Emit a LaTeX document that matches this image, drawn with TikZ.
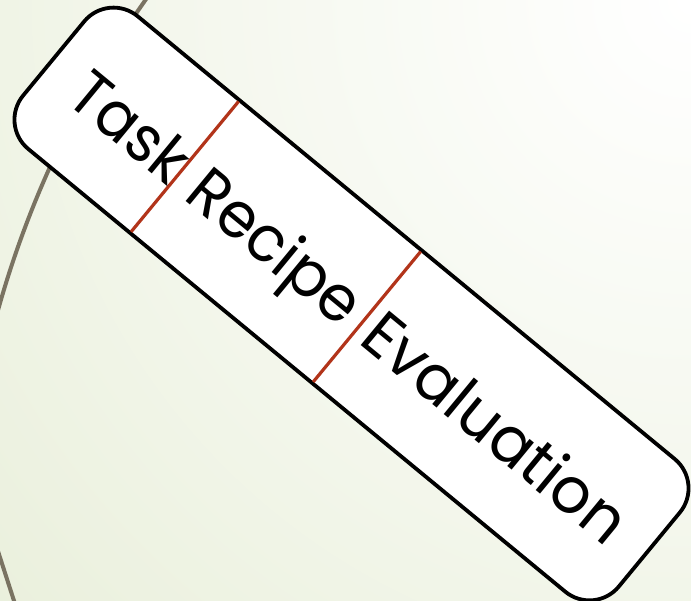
\documentclass[tikz,border=0pt]{standalone}
\usepackage{fontspec}
\setmainfont{Poppins}
\definecolor{bgg}{RGB}{226,234,207}
\definecolor{arcc}{RGB}{122,115,98}
\definecolor{sepc}{RGB}{178,52,26}
\pgfdeclareradialshading{bgrad}{\pgfpoint{0bp}{0bp}}{color(0bp)=(white); color(12bp)=(bgg!35!white); color(27bp)=(bgg!85!white); color(40bp)=(bgg); color(50bp)=(bgg)}
\tikzset{
  boxstyle/.style={draw=black, line width=3.8, fill=white, rounded corners=38},
  seprule/.style={draw=sepc, line width=3.2},
  wordlbl/.style={anchor=base, inner sep=0pt, xscale=0.93, font=\fontsize{64}{64}\selectfont},
  deco/.style={draw=arcc, line width=4}
}
\begin{document}
\begin{tikzpicture}[x=1pt,y=1pt]
\useasboundingbox (0,0) rectangle (691,-601);
\begin{scope}
  \clip (0,0) rectangle (691,-601);
  \shade[shading=bgrad] (691,0) circle (1000);
  \draw[deco] (969.7,-582) ++(143:1009) arc (143:166:1009);
  \coordinate (lowA) at (-4,-545);
  \coordinate (lowB) at (16,-607);
  \draw[deco] (lowA) -- (lowB);
\end{scope}
\begin{scope}[shift={(351.5,-304)}, rotate=-39.5, transform shape]
  \draw[boxstyle] (-386,-86) rectangle (386,86);
  \coordinate (s1t) at (-216,84.5);
  \coordinate (s1b) at (-216,-84.5);
  \coordinate (s2t) at (20,84.5);
  \coordinate (s2b) at (20,-84.5);
  \draw[seprule] (s1t) -- (s1b);
  \draw[seprule] (s2t) -- (s2b);
  \node[wordlbl] (task) at (-283,-26) {Task};
  \node[wordlbl, xscale=1.02] (recipe) at (-95,-26) {Recipe};
  \node[wordlbl, xscale=1.04] (eval) at (190,-26) {Evaluation};
\end{scope}
\end{tikzpicture}
\end{document}
